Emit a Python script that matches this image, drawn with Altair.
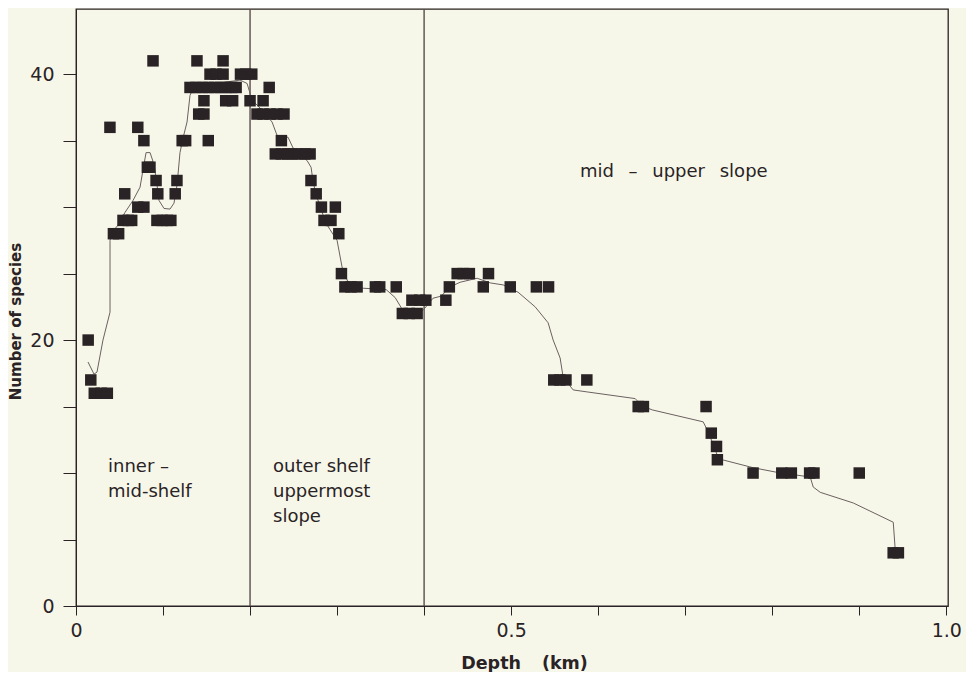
import altair as alt
import pandas as pd

# ---- observed samples (depth km, number of species) ----
depth_km = [
    0.014, 0.017, 0.021, 0.029, 0.036, 0.039, 0.043, 0.049, 0.054, 0.060, 0.064,
    0.056, 0.071, 0.078, 0.071, 0.078, 0.082, 0.085, 0.0885, 0.092, 0.094,
    0.093, 0.099, 0.105, 0.109, 0.114, 0.116, 0.122, 0.126,
    0.131, 0.138, 0.145, 0.152, 0.159, 0.166, 0.172, 0.179, 0.184,
    0.139, 0.169,
    0.154, 0.161, 0.169, 0.189, 0.195, 0.202,
    0.147, 0.172, 0.180, 0.200, 0.215,
    0.141, 0.147, 0.152, 0.222,
    0.208, 0.215, 0.223, 0.231, 0.239, 0.236,
    0.229, 0.236, 0.243, 0.249, 0.256, 0.263, 0.269,
    0.270, 0.276, 0.282, 0.298, 0.285, 0.293, 0.302, 0.305,
    0.309, 0.316, 0.323, 0.344, 0.349, 0.368,
    0.375, 0.383, 0.392,
    0.386, 0.395, 0.402, 0.425, 0.429,
    0.438, 0.445, 0.452, 0.474,
    0.468, 0.499, 0.529, 0.543,
    0.549, 0.556, 0.563, 0.587,
    0.646, 0.652, 0.724, 0.730, 0.736, 0.737,
    0.778, 0.811, 0.822, 0.843, 0.848, 0.900,
    0.939, 0.945,
]
species = [
    20, 17, 16, 16, 16, 36, 28, 28, 29, 29, 29,
    31, 30, 30, 36, 35, 33, 33, 41, 32, 31,
    29, 29, 29, 29, 31, 32, 35, 35,
    39, 39, 39, 39, 39, 39, 39, 39, 39,
    41, 41,
    40, 40, 40, 40, 40, 40,
    38, 38, 38, 38, 38,
    37, 37, 35, 39,
    37, 37, 37, 37, 37, 35,
    34, 34, 34, 34, 34, 34, 34,
    32, 31, 30, 30, 29, 29, 28, 25,
    24, 24, 24, 24, 24, 24,
    22, 22, 22,
    23, 23, 23, 23, 24,
    25, 25, 25, 25,
    24, 24, 24, 24,
    17, 17, 17, 17,
    15, 15, 15, 13, 12, 11,
    10, 10, 10, 10, 10, 10,
    4, 4,
]

# ---- smoothed curve ----
curve_depth = [
    0.0138, 0.0207, 0.0241, 0.0310, 0.0391, 0.0391, 0.0414, 0.0483, 0.0563, 0.0655,
    0.0736, 0.0770, 0.0805, 0.0851, 0.0897, 0.0931, 0.0954, 0.1011, 0.1080, 0.1126,
    0.1161, 0.1195, 0.1230, 0.1276, 0.1310, 0.1345, 0.1540, 0.1713, 0.1885, 0.1966,
    0.2023, 0.2138, 0.2253, 0.2310, 0.2437, 0.2494, 0.2655, 0.2701, 0.2724, 0.2759,
    0.2816, 0.2862, 0.2920, 0.3000, 0.3057, 0.3126, 0.3299, 0.3563, 0.3667, 0.3759,
    0.3862, 0.3989, 0.4103, 0.4195, 0.4299, 0.4414, 0.4609, 0.4759, 0.4908, 0.5080,
    0.5276, 0.5425, 0.5483, 0.5563, 0.5598, 0.5713, 0.5874, 0.6425, 0.6506, 0.6621,
    0.7207, 0.7253, 0.7310, 0.7368, 0.7425, 0.7782, 0.8057, 0.8437, 0.8471, 0.8552,
    0.8931, 0.9391, 0.9414,
]
curve_species = [
    18.35, 17.44, 17.59, 20.0, 22.1, 27.5, 28.1, 28.65, 29.6, 30.5,
    31.5, 32.8, 34.1, 34.1, 33.2, 31.65, 30.5, 29.9, 29.85, 30.3,
    31.65, 34.1, 35.2, 36.4, 38.4, 38.95, 39.1, 39.4, 39.55, 39.3,
    38.05, 37.3, 36.4, 35.4, 35.25, 34.45, 33.5, 33.0, 31.95, 30.9,
    29.9, 28.9, 28.3, 27.5, 25.5, 24.35, 23.9, 23.8, 23.2, 22.2,
    22.0, 22.25, 23.15, 23.3, 24.0, 24.35, 24.65, 24.3, 24.15, 23.6,
    22.5, 21.3, 20.0, 18.65, 17.2, 16.25, 16.1, 15.6, 15.05, 14.75,
    13.85, 13.25, 12.35, 11.35, 11.0, 10.4, 10.05, 9.7, 8.95, 8.55,
    7.75, 6.3, 4.2,
]

# ---- zone boundaries and labels ----
zone_bounds = [0.2, 0.4]
zone_text = ["inner \u2013\nmid-shelf", "outer shelf\nuppermost\nslope",
             "mid\u2002\u00a0\u2013\u2002\u00a0upper\u2002\u00a0slope"]
zone_x = [0.0368, 0.2264, 0.579]
zone_y = [11.15, 11.15, 33.3]

x_ticks = [0.0, 0.1, 0.2, 0.3, 0.4, 0.5, 0.6, 0.7, 0.8, 0.9, 1.0]
y_ticks = [0, 5, 10, 15, 20, 25, 30, 35, 40]

bg = "#f7f7e9"
ink = "#2a2325"
font = "DejaVu Sans"

pts = pd.DataFrame({"depth": depth_km, "species": species})
curve = pd.DataFrame({"depth": curve_depth, "species": curve_species, "order": list(range(len(curve_depth)))})
rules = pd.DataFrame({"depth": zone_bounds})
texts = pd.DataFrame({"depth": zone_x, "species": zone_y, "label": zone_text})

xs = alt.Scale(domain=[0, 1.002], nice=False, zero=False)
ys = alt.Scale(domain=[0, 44.9], nice=False)

x_axis = alt.Axis(
    values=x_ticks,
    labelExpr="datum.value == 0 ? '0' : (abs(datum.value - 0.5) < 1e-6 ? '0.5' : (abs(datum.value - 1) < 1e-6 ? '1.0' : ''))",
    tickSize=9, labelPadding=6, labelFontSize=19, labelFont=font, labelColor=ink,
    title="Depth\u2002\u00a0\u00a0(km)", titleFont=font, titleFontSize=17.5, titleFontWeight="bold",
    titleColor=ink, titleBaseline="alphabetic", titleY=62, titleX=448,
    grid=False, domainColor=ink, tickColor=ink, labelFlush=False,
)
y_axis = alt.Axis(
    values=y_ticks,
    labelExpr="datum.value % 20 == 0 ? datum.label : ''",
    tickSize=13, labelPadding=9, labelFontSize=19, labelFont=font, labelColor=ink,
    title="Number of species", titleFont=font, titleFontSize=15, titleFontWeight="bold",
    titleColor=ink, titleAngle=270, titleBaseline="middle", titleX=-61, titleY=312,
    grid=False, domainColor=ink, tickColor=ink, labelFlush=False,
)

rule_layer = alt.Chart(rules).mark_rule(color="#5a4b4c", strokeWidth=1.4).encode(
    x=alt.X("depth:Q", scale=xs, axis=x_axis)
)
line_layer = alt.Chart(curve).mark_line(color="#6a6062", strokeWidth=1).encode(
    x=alt.X("depth:Q", scale=xs, axis=x_axis),
    y=alt.Y("species:Q", scale=ys, axis=y_axis),
    order="order:Q",
)
pt_layer = alt.Chart(pts).mark_square(size=132, color=ink, opacity=1).encode(
    x=alt.X("depth:Q", scale=xs, axis=x_axis),
    y=alt.Y("species:Q", scale=ys, axis=y_axis),
)
text_layer = alt.Chart(texts).mark_text(
    align="left", baseline="top", font=font, fontSize=18, color=ink, lineBreak="\n", lineHeight=25
).encode(
    x=alt.X("depth:Q", scale=xs, axis=x_axis),
    y=alt.Y("species:Q", scale=ys, axis=y_axis),
    text="label:N",
)

chart = alt.layer(rule_layer, line_layer, pt_layer, text_layer).properties(
    width=872, height=597,
    autosize=alt.AutoSizeParams(type="none"),
    padding={"left": 68, "top": 1, "right": 18, "bottom": 66},
    background=bg,
).configure_view(
    stroke=ink, strokeWidth=1.3, fill=bg
).configure_axis(
    labelFontSize=19, labelFont=font
)

chart.save("out.html", embed_options={"renderer": "svg", "actions": False})
